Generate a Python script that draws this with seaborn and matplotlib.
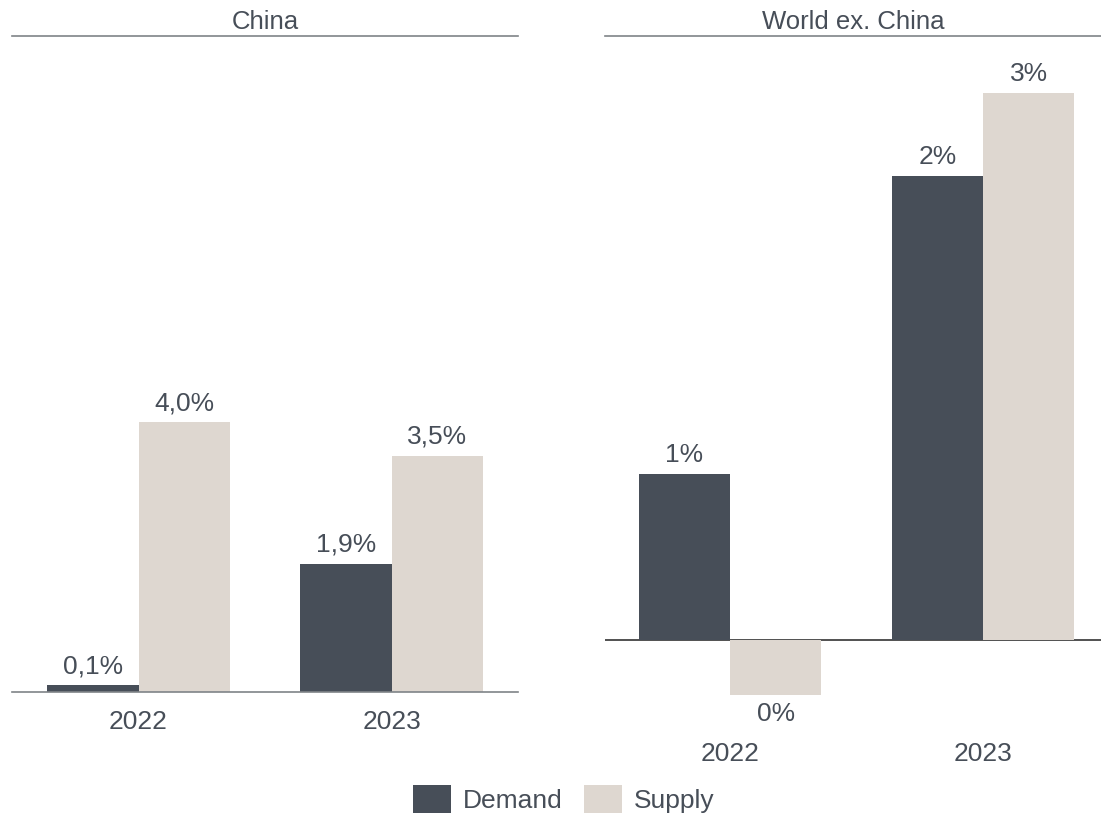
import pandas as pd
import matplotlib
matplotlib.use("Agg")
import matplotlib.pyplot as plt
from matplotlib.patches import Patch
import seaborn as sns

# data
years = ["2022", "2023"]
series = ["Demand", "Supply"]
china_demand = [0.1, 1.9]
china_supply = [4.0, 3.5]
world_demand = [0.82, 2.29]
world_supply = [-0.27, 2.7]

dark = "#474E58"
light = "#DED7D0"
text_col = "#474E58"

sns.set_theme(style="white")
plt.rcParams["font.family"] = ["Liberation Sans", "DejaVu Sans"]
plt.rcParams["text.color"] = text_col


def make_df(demand, supply):
    rows = []
    for name, vals in zip(series, [demand, supply]):
        for y, v in zip(years, vals):
            rows.append({"year": y, "series": name, "value": v})
    return pd.DataFrame(rows)


W, H = 1101, 818
fig = plt.figure(figsize=(W / 100, H / 100), dpi=100)


def px_axes(x0, y0, x1, y1):
    return fig.add_axes([x0 / W, (H - y1) / H, (x1 - x0) / W, (y1 - y0) / H])


ax1 = px_axes(12, 36, 518, 692)
ax2 = px_axes(605, 36, 1101, 724)

palette = {"Demand": dark, "Supply": light}

for ax, dem, sup, title, fmt in [
    (ax1, china_demand, china_supply, "China",
     lambda v: f"{v:.1f}".replace(".", ",") + "%"),
    (ax2, world_demand, world_supply, "World ex. China",
     lambda v: f"{abs(round(v)):.0f}%"),
]:
    df = make_df(dem, sup)
    sns.barplot(data=df, x="year", y="value", hue="series", palette=palette,
                width=0.72, linewidth=0, saturation=1, ax=ax, legend=False)
    for cont in ax.containers:
        ax.bar_label(cont, labels=[fmt(v) for v in cont.datavalues],
                     padding=5, fontsize=19, color=text_col)
    ax.set_title(title, fontsize=18.5, color=text_col, pad=5)
    ax.set_xlabel("")
    ax.set_ylabel("")
    ax.set_yticks([])
    ax.tick_params(axis="x", length=0, labelsize=19, labelcolor=text_col, pad=13)
    for s in ["left", "right"]:
        ax.spines[s].set_visible(False)
    ax.spines["top"].set_color("#7F8488")
    ax.spines["top"].set_linewidth(1.2)

ax1.set_xlim(-0.5, 1.5)
ax1.set_ylim(0, 9.72)
ax1.spines["bottom"].set_color("#7F8488")
ax1.spines["bottom"].set_linewidth(1.2)

ax2.set_xlim(-0.494, 1.466)
ax2.set_ylim(-0.415, 2.98)
ax2.spines["bottom"].set_visible(False)
ax2.axhline(0, color="#333333", linewidth=1.2, zorder=0)

handles = [Patch(facecolor=palette[s], edgecolor="none", label=s) for s in series]
fig.legend(handles=handles, loc="center", bbox_to_anchor=(564 / W, 19 / H),
           ncol=2, frameon=False, fontsize=19, handlelength=1.44,
           handleheight=1.25, handletextpad=0.45, columnspacing=0.8)

fig.savefig("out.png", dpi=100)
